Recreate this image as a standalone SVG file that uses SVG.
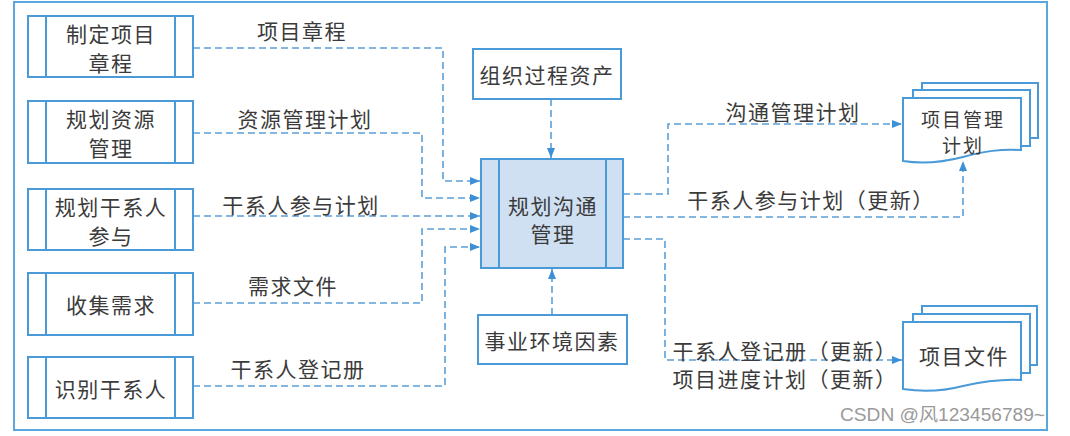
<svg xmlns="http://www.w3.org/2000/svg" width="1070" height="436" viewBox="0 0 1070 436">
<style>
.frame{fill:none;stroke:#5aa7de;stroke-width:2}
.box{fill:#ffffff;stroke:#4a9ad8;stroke-width:2}
.cbox{fill:#cfe0f3;stroke:#4a9ad8;stroke-width:2}
.ln{fill:none;stroke:#4a9ad8;stroke-width:2}
.doc{fill:#ffffff;stroke:#4a9ad8;stroke-width:2}
.con{fill:none;stroke:#5b9fd8;stroke-width:1.6;stroke-dasharray:7 4}
.t{font-family:"Noto Sans CJK SC","Liberation Sans",sans-serif;font-size:21px;fill:#3b3b3b;text-anchor:middle;dominant-baseline:central;letter-spacing:1.5px}
.ts{font-size:19px;letter-spacing:2px}
.wm{font-family:"Liberation Sans","Noto Sans CJK SC",sans-serif;font-size:18px;fill:#9a9a9a}
</style>
<defs>
<marker id="ah" viewBox="0 0 10 8" refX="10" refY="4" markerWidth="11" markerHeight="8" markerUnits="userSpaceOnUse" orient="auto">
<path d="M0,0 L10,4 L0,8 Z" fill="#3d8fd6"/>
</marker>
</defs>
<rect width="1070" height="436" fill="#ffffff"/>
<rect class="frame" x="14" y="2" width="1033" height="428"/>

<g id="connectors">
<path class="con" d="M193,48 H443 V181 H480" marker-end="url(#ah)"/>
<path class="con" d="M193,133 H422 V198 H480" marker-end="url(#ah)"/>
<path class="con" d="M193,216 H480" marker-end="url(#ah)"/>
<path class="con" d="M193,303 H422 V229 H480" marker-end="url(#ah)"/>
<path class="con" d="M193,386 H445 V247 H480" marker-end="url(#ah)"/>
<path class="con" d="M551,99 V158" marker-end="url(#ah)"/>
<path class="con" d="M552,315 V269" marker-end="url(#ah)"/>
<path class="con" d="M623,194 H668 V124 H902" marker-end="url(#ah)"/>
<path class="con" d="M623,217 H963 V161" marker-end="url(#ah)"/>
<path class="con" d="M623,239 H665 V360 H902" marker-end="url(#ah)"/>
<text class="t" x="302" y="30">项目章程</text>
<text class="t" x="305" y="118">资源管理计划</text>
<text class="t" x="301" y="204">干系人参与计划</text>
<text class="t" x="293" y="285">需求文件</text>
<text class="t" x="298" y="368">干系人登记册</text>
<text class="t" x="793" y="111">沟通管理计划</text>
<text class="t" x="811" y="199">干系人参与计划（更新）</text>
<text class="t" x="785" y="350">干系人登记册（更新）</text>
<text class="t" x="785" y="378">项目进度计划（更新）</text>
</g>

<g id="n1">
<rect class="box" x="28" y="16" width="165" height="61"/>
<path class="ln" d="M46,16 V77 M175,16 V77"/>
<text class="t" x="111" y="33">制定项目</text>
<text class="t" x="111" y="62">章程</text>
</g>
<g id="n2">
<rect class="box" x="28" y="101" width="165" height="62"/>
<path class="ln" d="M46,101 V163 M175,101 V163"/>
<text class="t" x="111" y="118">规划资源</text>
<text class="t" x="111" y="147">管理</text>
</g>
<g id="n3">
<rect class="box" x="28" y="189" width="165" height="61"/>
<path class="ln" d="M46,189 V250 M175,189 V250"/>
<text class="t" x="111" y="206">规划干系人</text>
<text class="t" x="111" y="235">参与</text>
</g>
<g id="n4">
<rect class="box" x="28" y="273" width="165" height="62"/>
<path class="ln" d="M46,273 V335 M175,273 V335"/>
<text class="t" x="111" y="304">收集需求</text>
</g>
<g id="n5">
<rect class="box" x="28" y="357" width="165" height="61"/>
<path class="ln" d="M46,357 V418 M175,357 V418"/>
<text class="t" x="111" y="388">识别干系人</text>
</g>

<g id="n6">
<rect class="box" x="473" y="49" width="148" height="50"/>
<text class="t" x="547" y="74">组织过程资产</text>
</g>
<g id="n7">
<rect class="cbox" x="481" y="159" width="142" height="109"/>
<path class="ln" d="M499,159 V268 M606,159 V268"/>
<text class="t" x="553" y="205">规划沟通</text>
<text class="t" x="553" y="233">管理</text>
</g>
<g id="n8">
<rect class="box" x="478" y="315" width="149" height="49"/>
<text class="t" x="552" y="340">事业环境因素</text>
</g>

<g id="n9">
<rect class="doc" x="922" y="83" width="116" height="55"/>
<rect class="doc" x="913" y="90" width="117" height="56"/>
<path class="doc" d="M903,98 H1021 V150 C1000,149 985,151 963,157 C940,163 922,164 903,161 Z"/>
<text class="t ts" x="963" y="118">项目管理</text>
<text class="t ts" x="963" y="144">计划</text>
</g>
<g id="n10">
<rect class="doc" x="922" y="306" width="115" height="59"/>
<rect class="doc" x="913" y="314" width="117" height="59"/>
<path class="doc" d="M903,322 H1021 V380 C1000,379 985,381 963,386 C940,392 922,392 903,389 Z"/>
<text class="t" x="964" y="355">项目文件</text>
</g>

<text class="wm" x="840" y="421" textLength="205" lengthAdjust="spacingAndGlyphs">CSDN @风123456789~</text>
</svg>
